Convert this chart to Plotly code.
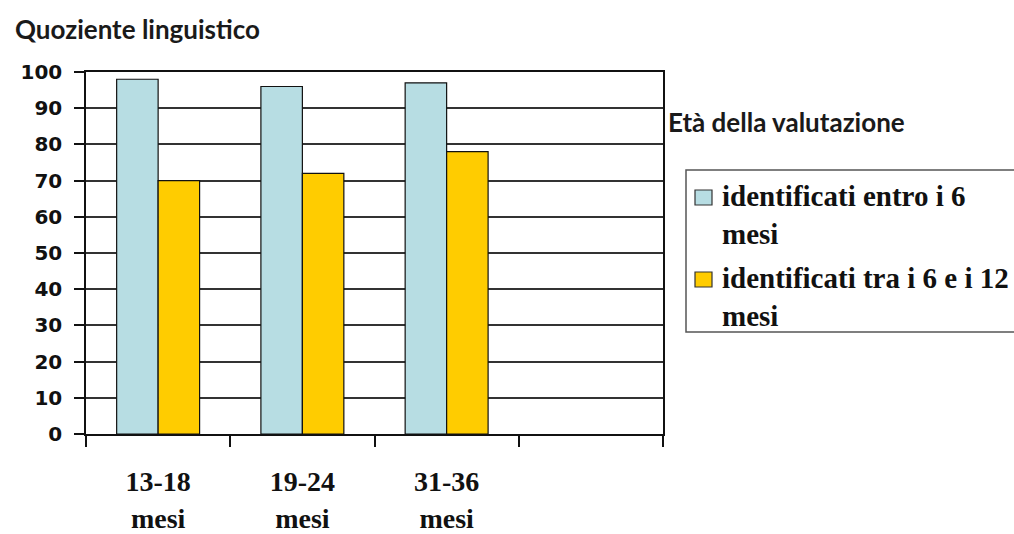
import plotly.graph_objects as go

# Age at assessment (x-axis groups); the last slot is left empty
age_groups = ["13-18<br>mesi", "19-24<br>mesi", "31-36<br>mesi"]
n_slots = 4

# Language quotient per group
entro_6 = [98, 96, 97]
tra_6_12 = [70, 72, 78]

series_names = ["identificati entro i 6<br>mesi", "identificati tra i 6 e i 12<br>mesi"]
series_colors = ["#b7dde3", "#ffcc00"]

y_ticks = list(range(0, 101, 10))

W, H = 1014, 534
L, R, T, B = 86, 351, 72, 100
plot_w, plot_h = W - L - R, H - T - B


def px_x(px):
    return (px - L) / plot_w


def px_y(py):
    return (H - B - py) / plot_h


def bold_lines(s):
    return "<b>" + s.replace("<br>", "</b><br><b>") + "</b>"


x_pos = list(range(len(age_groups)))

fig = go.Figure()
for name, vals, col in zip(series_names, [entro_6, tra_6_12], series_colors):
    fig.add_trace(go.Bar(
        x=x_pos, y=vals, name=name.replace("<br>", " "), showlegend=False,
        marker=dict(color=col, line=dict(color="#111111", width=1.2)),
    ))

serif = "Liberation Serif"

# Legend drawn as a framed box with swatches and two-line labels
shapes = [dict(
    type="rect", xref="paper", yref="paper",
    x0=px_x(686), x1=px_x(1030), y0=px_y(332), y1=px_y(170),
    line=dict(color="#555555", width=1.5), fillcolor="rgba(0,0,0,0)",
)]
annotations = []
swatch_tops = [190, 272]
text_tops = [178, 260]
for s_top, t_top, name, col in zip(swatch_tops, text_tops, series_names, series_colors):
    shapes.append(dict(
        type="rect", xref="paper", yref="paper",
        x0=px_x(695), x1=px_x(712), y0=px_y(s_top + 15), y1=px_y(s_top),
        line=dict(color="#333333", width=1.2), fillcolor=col,
    ))
    annotations.append(dict(
        text=bold_lines(name), xref="paper", yref="paper",
        x=px_x(720), xanchor="left", y=px_y(t_top), yanchor="top",
        align="left", showarrow=False,
        font=dict(family=serif, size=29, color="#111111"),
    ))

annotations.append(dict(
    text="<b>Età della valutazione</b>",
    x=px_x(666), xref="paper", xanchor="left",
    y=px_y(122), yref="paper", yanchor="middle",
    showarrow=False,
    font=dict(family="Lato", size=26, color="#1a1a1a"),
))

fig.update_layout(
    width=W, height=H,
    margin=dict(l=L, r=R, t=T, b=B, autoexpand=False),
    paper_bgcolor="white", plot_bgcolor="white",
    barmode="group", bargap=0.425, bargroupgap=0,
    font=dict(family=serif),
    title=dict(
        text="<b>Quoziente linguistico</b>",
        x=15 / W, xanchor="left", xref="container",
        y=1 - 30 / H, yanchor="middle", yref="container",
        font=dict(family="Lato", size=26, color="#1a1a1a"),
    ),
    showlegend=False,
    xaxis=dict(
        range=[-0.5, n_slots - 0.5],
        tickmode="array", tickvals=x_pos,
        ticktext=[bold_lines(t) for t in age_groups],
        ticks="", showgrid=False, zeroline=False,
        showline=True, linecolor="#111111", linewidth=1.5, mirror=True,
        tickfont=dict(family=serif, size=28, color="#111111"),
        ticklabelstandoff=22,
        minor=dict(tickmode="linear", tick0=-0.5, dtick=1, ticks="outside",
                   ticklen=11, tickwidth=1.5, tickcolor="#111111", showgrid=False),
    ),
    yaxis=dict(
        range=[0, 100], tickmode="array", tickvals=y_ticks,
        ticktext=["<b>%d</b>" % v for v in y_ticks],
        ticks="outside", ticklen=10, tickwidth=1.5, tickcolor="#111111",
        showgrid=True, gridcolor="#333333", gridwidth=1.5,
        zeroline=False,
        showline=True, linecolor="#111111", linewidth=1.5, mirror=True,
        tickfont=dict(family="DejaVu Sans", size=20, color="#111111"),
        ticklabelstandoff=8,
    ),
    shapes=shapes,
    annotations=annotations,
)

fig.write_html("out.html")
